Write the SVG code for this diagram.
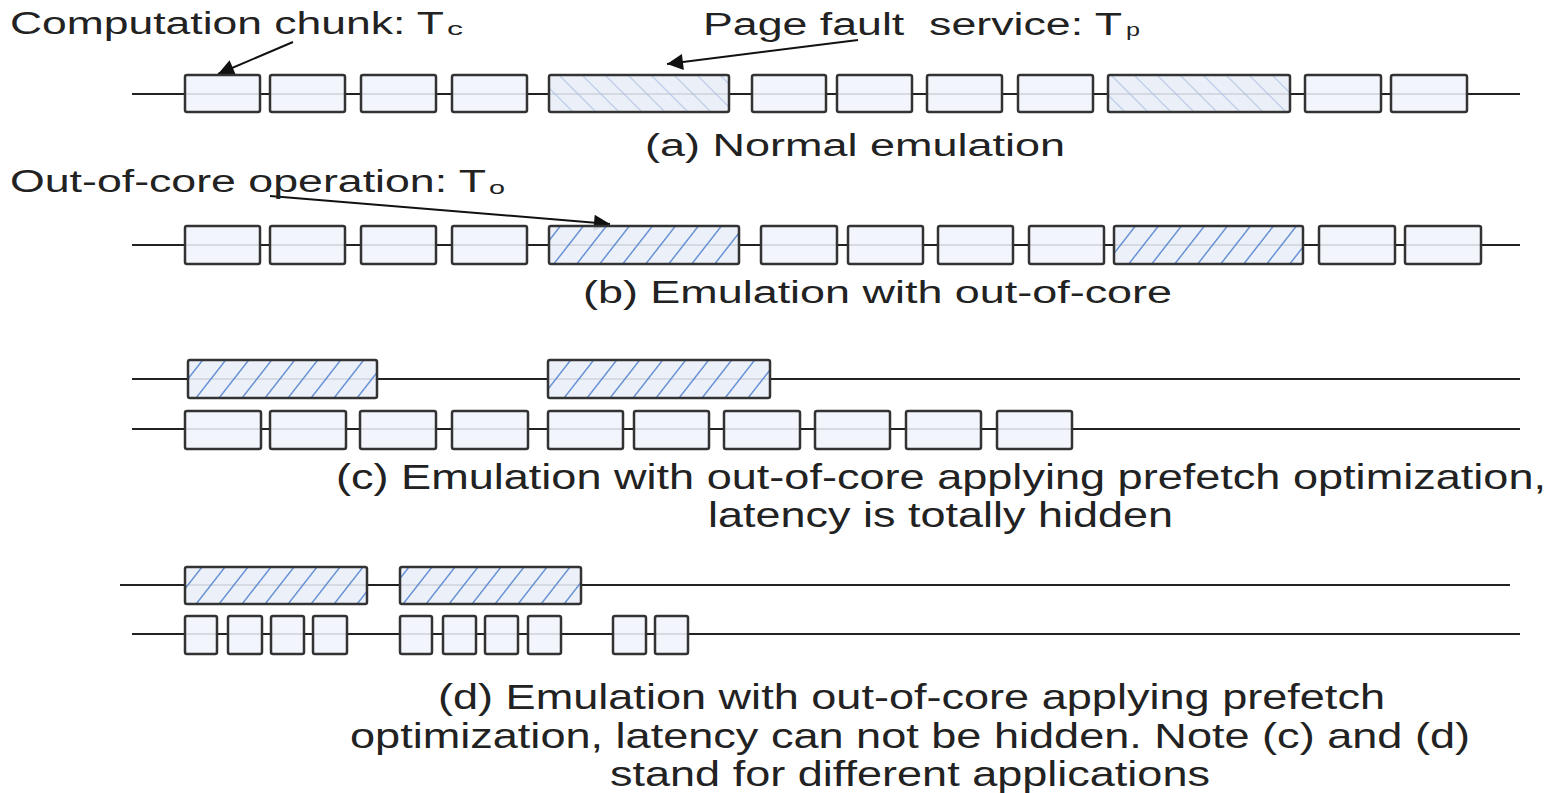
<svg xmlns="http://www.w3.org/2000/svg" width="1552" height="793" viewBox="0 0 1552 793">
<style>
text{font-family:"Liberation Sans",Arial,sans-serif;fill:#222;font-size:31px;white-space:pre}
.sub{font-size:19px}
.big{font-size:35px}
.tl{stroke:#222;stroke-width:2;fill:none}
.c{fill:#f0f4fa;fill-opacity:0.88;stroke:#333;stroke-width:2.5}
.h1{fill:url(#hatchA);stroke:#333;stroke-width:2.5}
.h2{fill:url(#hatchB);stroke:#333;stroke-width:2.5}
</style>
<defs>
<pattern id="hatchA" patternUnits="userSpaceOnUse" width="23" height="40" patternTransform="skewX(45)">
<rect width="23" height="40" fill="#e9eff8" fill-opacity="0.9"/>
<line x1="1" y1="0" x2="1" y2="40" stroke="#a9bde0" stroke-width="1.3"/>
</pattern>
<pattern id="hatchB" patternUnits="userSpaceOnUse" width="23" height="40" patternTransform="skewX(-38)">
<rect width="23" height="40" fill="#eaf0f9" fill-opacity="0.9"/>
<line x1="1" y1="0" x2="1" y2="40" stroke="#4f7fcf" stroke-width="1.6"/>
</pattern>
<marker id="ahb" viewBox="0 0 10 10" refX="10" refY="5" markerWidth="24" markerHeight="16" orient="auto" markerUnits="userSpaceOnUse">
<path d="M0,0 L10,5 L0,10 z" fill="#111"/>
</marker>
</defs>

<g id="connectors">
<line class="tl" x1="132" y1="94" x2="1520" y2="94"/>
<line class="tl" x1="132" y1="245" x2="1520" y2="245"/>
<line class="tl" x1="132" y1="379" x2="1520" y2="379"/>
<line class="tl" x1="132" y1="429" x2="1520" y2="429"/>
<line class="tl" x1="120" y1="585" x2="1510" y2="585"/>
<line class="tl" x1="132" y1="634" x2="1520" y2="634"/>
<line x1="293" y1="42" x2="218" y2="74" stroke="#111" stroke-width="2" marker-end="url(#ahb)"/>
<line x1="858" y1="40" x2="667" y2="64" stroke="#111" stroke-width="2" marker-end="url(#ahb)"/>
<line x1="270" y1="196" x2="610" y2="224" stroke="#111" stroke-width="2" marker-end="url(#ahb)"/>
</g>

<g id="row-a">
<rect class="c" x="185" y="75" width="75" height="37" rx="2"/>
<rect class="c" x="270" y="75" width="75" height="37" rx="2"/>
<rect class="c" x="361" y="75" width="75" height="37" rx="2"/>
<rect class="c" x="452" y="75" width="75" height="37" rx="2"/>
<rect class="h1" x="549" y="75" width="180" height="37" rx="2"/>
<rect class="c" x="752" y="75" width="74" height="37" rx="2"/>
<rect class="c" x="837" y="75" width="75" height="37" rx="2"/>
<rect class="c" x="927" y="75" width="75" height="37" rx="2"/>
<rect class="c" x="1018" y="75" width="75" height="37" rx="2"/>
<rect class="h1" x="1108" y="75" width="182" height="37" rx="2"/>
<rect class="c" x="1305" y="75" width="76" height="37" rx="2"/>
<rect class="c" x="1391" y="75" width="76" height="37" rx="2"/>
</g>

<g id="row-b">
<rect class="c" x="185" y="226" width="75" height="38" rx="2"/>
<rect class="c" x="270" y="226" width="75" height="38" rx="2"/>
<rect class="c" x="361" y="226" width="75" height="38" rx="2"/>
<rect class="c" x="452" y="226" width="75" height="38" rx="2"/>
<rect class="h2" x="549" y="226" width="190" height="38" rx="2"/>
<rect class="c" x="761" y="226" width="76" height="38" rx="2"/>
<rect class="c" x="848" y="226" width="75" height="38" rx="2"/>
<rect class="c" x="938" y="226" width="75" height="38" rx="2"/>
<rect class="c" x="1029" y="226" width="75" height="38" rx="2"/>
<rect class="h2" x="1114" y="226" width="189" height="38" rx="2"/>
<rect class="c" x="1319" y="226" width="76" height="38" rx="2"/>
<rect class="c" x="1405" y="226" width="76" height="38" rx="2"/>
</g>

<g id="row-c">
<rect class="h2" x="188" y="360" width="189" height="38" rx="2"/>
<rect class="h2" x="548" y="360" width="222" height="38" rx="2"/>
<rect class="c" x="185" y="411" width="76" height="38" rx="2"/>
<rect class="c" x="270" y="411" width="76" height="38" rx="2"/>
<rect class="c" x="360" y="411" width="76" height="38" rx="2"/>
<rect class="c" x="452" y="411" width="76" height="38" rx="2"/>
<rect class="c" x="548" y="411" width="75" height="38" rx="2"/>
<rect class="c" x="634" y="411" width="75" height="38" rx="2"/>
<rect class="c" x="724" y="411" width="76" height="38" rx="2"/>
<rect class="c" x="815" y="411" width="75" height="38" rx="2"/>
<rect class="c" x="906" y="411" width="75" height="38" rx="2"/>
<rect class="c" x="997" y="411" width="75" height="38" rx="2"/>
</g>

<g id="row-d">
<rect class="h2" x="185" y="567" width="182" height="37" rx="2"/>
<rect class="h2" x="400" y="567" width="181" height="37" rx="2"/>
<rect class="c" x="185" y="616" width="32" height="38" rx="2"/>
<rect class="c" x="228" y="616" width="34" height="38" rx="2"/>
<rect class="c" x="271" y="616" width="33" height="38" rx="2"/>
<rect class="c" x="313" y="616" width="34" height="38" rx="2"/>
<rect class="c" x="400" y="616" width="32" height="38" rx="2"/>
<rect class="c" x="443" y="616" width="33" height="38" rx="2"/>
<rect class="c" x="485" y="616" width="33" height="38" rx="2"/>
<rect class="c" x="528" y="616" width="33" height="38" rx="2"/>
<rect class="c" x="613" y="616" width="33" height="38" rx="2"/>
<rect class="c" x="655" y="616" width="33" height="38" rx="2"/>
</g>

<g id="labels">
<text x="10" y="34" font-size="32" textLength="434" lengthAdjust="spacingAndGlyphs">Computation chunk: T</text>
<text class="sub" x="447" y="35" textLength="16" lengthAdjust="spacingAndGlyphs">c</text>
<text x="703" y="35" font-size="32" textLength="419" lengthAdjust="spacingAndGlyphs">Page fault  service: T</text>
<text class="sub" x="1126" y="36" textLength="14" lengthAdjust="spacingAndGlyphs">p</text>
<text x="645" y="156" font-size="32" textLength="420" lengthAdjust="spacingAndGlyphs">(a) Normal emulation</text>
<text x="10" y="192" font-size="32" textLength="476" lengthAdjust="spacingAndGlyphs">Out-of-core operation: T</text>
<text class="sub" x="489" y="194" textLength="16" lengthAdjust="spacingAndGlyphs">o</text>
<text x="583" y="303" font-size="32" textLength="589" lengthAdjust="spacingAndGlyphs">(b) Emulation with out-of-core</text>
<text class="big" x="336" y="489" textLength="1210" lengthAdjust="spacingAndGlyphs">(c) Emulation with out-of-core applying prefetch optimization,</text>
<text class="big" x="708" y="527" textLength="465" lengthAdjust="spacingAndGlyphs">latency is totally hidden</text>
<text class="big" x="438" y="709" textLength="947" lengthAdjust="spacingAndGlyphs">(d) Emulation with out-of-core applying prefetch</text>
<text class="big" x="350" y="748" textLength="1120" lengthAdjust="spacingAndGlyphs">optimization, latency can not be hidden. Note (c) and (d)</text>
<text class="big" x="610" y="786" textLength="600" lengthAdjust="spacingAndGlyphs">stand for different applications</text>
</g>
</svg>
